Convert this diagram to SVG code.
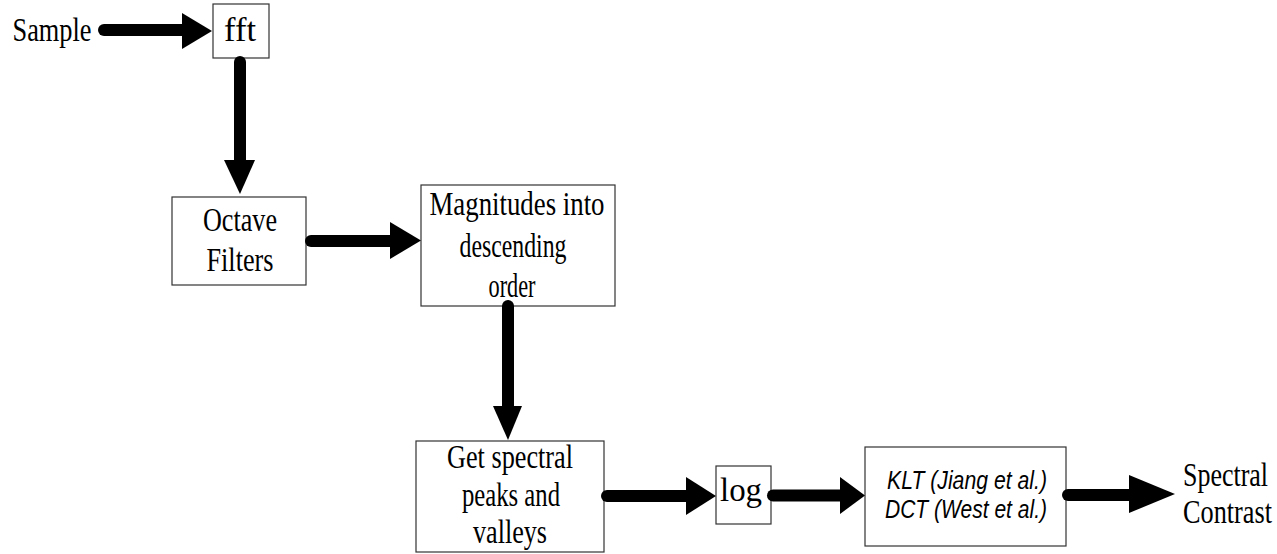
<svg xmlns="http://www.w3.org/2000/svg" width="1277" height="554" viewBox="0 0 1277 554">
<style>
.box{fill:#fff;stroke:#333;stroke-width:1.2}
.t{font-family:"Liberation Serif",serif;font-size:33px;fill:#000;text-anchor:middle}
.ts{font-family:"Liberation Serif",serif;font-size:33px;fill:#000}
.ti{font-family:"Liberation Sans",Arial,sans-serif;font-style:italic;font-size:25px;fill:#000;text-anchor:middle}
.bar{stroke:#000;stroke-width:12;stroke-linecap:round;fill:none}
.head{fill:#000}
</style>
<rect width="1277" height="554" fill="#fff"/>
<g id="sample"><text class="t" x="52" y="41" textLength="79" lengthAdjust="spacingAndGlyphs">Sample</text></g>
<g id="fft"><rect class="box" x="213" y="4" width="56" height="54"/><text class="t" x="240" y="41" textLength="32" lengthAdjust="spacingAndGlyphs">fft</text></g>
<g id="octave"><rect class="box" x="172" y="197" width="134" height="88"/><text class="t" x="240" y="231" textLength="74" lengthAdjust="spacingAndGlyphs">Octave</text><text class="t" x="240" y="271" textLength="67" lengthAdjust="spacingAndGlyphs">Filters</text></g>
<g id="magnitudes"><rect class="box" x="421" y="185" width="194" height="121"/><text class="t" x="517" y="215" textLength="175" lengthAdjust="spacingAndGlyphs">Magnitudes into</text><text class="t" x="513" y="257" textLength="107" lengthAdjust="spacingAndGlyphs">descending</text><text class="t" x="512" y="297" textLength="47" lengthAdjust="spacingAndGlyphs">order</text></g>
<g id="peaks"><rect class="box" x="416" y="441" width="188" height="111"/><text class="t" x="510" y="468" textLength="126" lengthAdjust="spacingAndGlyphs">Get spectral</text><text class="t" x="511" y="506" textLength="98" lengthAdjust="spacingAndGlyphs">peaks and</text><text class="t" x="510" y="543" textLength="74" lengthAdjust="spacingAndGlyphs">valleys</text></g>
<g id="log"><rect class="box" x="716" y="466" width="55" height="58"/><text class="t" x="741" y="501" textLength="42" lengthAdjust="spacingAndGlyphs">log</text></g>
<g id="klt"><rect class="box" x="865" y="447" width="201" height="99"/><text class="ti" x="967" y="489" textLength="160" lengthAdjust="spacingAndGlyphs">KLT (Jiang et al.)</text><text class="ti" x="966" y="518" textLength="162" lengthAdjust="spacingAndGlyphs">DCT (West et al.)</text></g>
<g id="contrast"><text class="ts" transform="translate(1183,486) scale(0.787,1)" x="0" y="0">Spectral</text><text class="ts" transform="translate(1183,523) scale(0.796,1)" x="0" y="0">Contrast</text></g>
<g id="connectors">
<line class="bar" x1="104" y1="30" x2="185" y2="30"/><polygon class="head" points="182,13 212,31 182,49"/>
<line class="bar" x1="240" y1="62" x2="240" y2="162"/><polygon class="head" points="224,160 240,194 255,160"/>
<line class="bar" x1="311" y1="241" x2="393" y2="241"/><polygon class="head" points="390,222 421,240.5 390,259"/>
<line class="bar" x1="508" y1="306" x2="508" y2="408"/><polygon class="head" points="493,406 508,440 522,406"/>
<line class="bar" x1="607" y1="496" x2="689" y2="496"/><polygon class="head" points="686,477 716,496 686,515"/>
<line class="bar" x1="773" y1="495.5" x2="843" y2="495.5"/><polygon class="head" points="840,477 865,495.5 840,514"/>
<line class="bar" x1="1068" y1="495" x2="1131" y2="495"/><polygon class="head" points="1129,475 1175,494 1129,513"/>
</g>
</svg>
